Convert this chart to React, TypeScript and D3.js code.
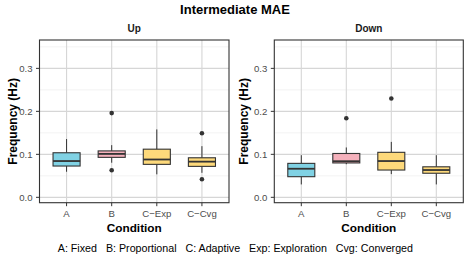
import React from 'react';
import * as d3 from 'd3';

const categories = ['A', 'B', 'C-Exp', 'C-Cvg'];
const tickLabels = ['A', 'B', 'C\u2212Exp', 'C\u2212Cvg'];
const fills = ['#80d2e4', '#f5b1bc', '#fdd97b', '#fdd97b'];
const panels = ['Up', 'Down'];
const yTicks = [0, 0.1, 0.2, 0.3];
const yMinor = [0.05, 0.15, 0.25, 0.35];
const caption = 'A: Fixed   B: Proportional   C: Adaptive   Exp: Exploration   Cvg: Converged';

// five-number summaries, per panel
const upLow = [0.0595, 0.0805, 0.0535, 0.057];
const upQ1 = [0.0728, 0.093, 0.0767, 0.072];
const upMed = [0.0844, 0.101, 0.088, 0.083];
const upQ3 = [0.1037, 0.108, 0.112, 0.092];
const upHigh = [0.1356, 0.1214, 0.158, 0.119];
const upOut = [[], [0.196, 0.063], [], [0.149, 0.042]];

const downLow = [0.030, 0.077, 0.054, 0.030];
const downQ1 = [0.048, 0.080, 0.0635, 0.056];
const downMed = [0.0665, 0.084, 0.0844, 0.0635];
const downQ3 = [0.079, 0.102, 0.1047, 0.071];
const downHigh = [0.098, 0.116, 0.129, 0.098];
const downOut = [[], [0.184], [0.230], []];

const stats = [
    { low: upLow, q1: upQ1, med: upMed, q3: upQ3, high: upHigh, out: upOut },
    { low: downLow, q1: downQ1, med: downMed, q3: downQ3, high: downHigh, out: downOut },
];

const W = 471, H = 255;
const top = 40, bottom = 202.7;
const panelX = [[39.5, 229], [274.3, 463.3]];
const yLabelGap = [23, 26.3];
const font = 'Liberation Sans, Arial, sans-serif';

function Panel({ idx }: { idx: number }) {
    const [x0, x1] = panelX[idx];
    const s = stats[idx];
    const x = d3.scalePoint<string>().domain(categories).range([x0, x1]).padding(0.6);
    const y = d3.scaleLinear().domain([-0.0125, 0.366]).range([bottom, top]);
    const bw = x.step() * 0.6;
    return (
        <g>
            <rect x={x0} y={top} width={x1 - x0} height={bottom - top} fill="#fff" />
            {yMinor.map(t => (
                <line key={'m' + t} x1={x0} x2={x1} y1={y(t)} y2={y(t)} stroke="#ebebeb" strokeWidth={0.6} />
            ))}
            {yTicks.map(t => (
                <line key={'g' + t} x1={x0} x2={x1} y1={y(t)} y2={y(t)} stroke="#d6d6d6" strokeWidth={1.1} />
            ))}
            {categories.map(c => (
                <line key={'v' + c} x1={x(c)} x2={x(c)} y1={top} y2={bottom} stroke="#d6d6d6" strokeWidth={1.1} />
            ))}
            {categories.map((c, i) => {
                const cx = x(c) as number;
                return (
                    <g key={c}>
                        <line x1={cx} x2={cx} y1={y(s.high[i])} y2={y(s.q3[i])} stroke="#333" strokeWidth={1} />
                        <line x1={cx} x2={cx} y1={y(s.q1[i])} y2={y(s.low[i])} stroke="#333" strokeWidth={1} />
                        <rect x={cx - bw / 2} y={y(s.q3[i])} width={bw} height={y(s.q1[i]) - y(s.q3[i])}
                            fill={fills[i]} stroke="#333" strokeWidth={1.1} />
                        <line x1={cx - bw / 2} x2={cx + bw / 2} y1={y(s.med[i])} y2={y(s.med[i])} stroke="#333" strokeWidth={1.8} />
                        {s.out[i].map((o, j) => (
                            <circle key={j} cx={cx} cy={y(o)} r={2.3} fill="#333" />
                        ))}
                    </g>
                );
            })}
            <rect x={x0} y={top} width={x1 - x0} height={bottom - top} fill="none" stroke="#333" strokeWidth={1.1} />
            {yTicks.map(t => (
                <g key={'t' + t}>
                    <line x1={x0 - 3.5} x2={x0} y1={y(t)} y2={y(t)} stroke="#333" strokeWidth={1} />
                    <text x={x0 - 7} y={y(t)} dy="0.35em" textAnchor="end" fontSize={9.6} fill="#4d4d4d" fontFamily={font}>
                        {d3.format('.1f')(t)}
                    </text>
                </g>
            ))}
            {categories.map((c, i) => (
                <g key={'x' + c}>
                    <line x1={x(c)} x2={x(c)} y1={bottom} y2={bottom + 3.5} stroke="#333" strokeWidth={1} />
                    <text x={x(c)} y={bottom + 14} textAnchor="middle" fontSize={9.6} fill="#4d4d4d" fontFamily={font}>
                        {tickLabels[i]}
                    </text>
                </g>
            ))}
            <text x={(x0 + x1) / 2} y={31.5} textAnchor="middle" fontSize={10} fontWeight="bold" fill="#1a1a1a" fontFamily={font}>
                {panels[idx]}
            </text>
            <text x={(x0 + x1) / 2} y={231.5} textAnchor="middle" fontSize={11.8} fontWeight="bold" fill="#000" fontFamily={font}>
                Condition
            </text>
            <text transform={`translate(${x0 - yLabelGap[idx]},${(top + bottom) / 2}) rotate(-90)`} textAnchor="middle"
                fontSize={12} fontWeight="bold" fill="#000" fontFamily={font}>
                Frequency (Hz)
            </text>
        </g>
    );
}

export default function App() {
    return (
        <svg width={W} height={H} style={{ position: 'absolute', left: 0, top: 0, background: '#fff' }}>
            <rect width={W} height={H} fill="#fff" />
            <text x={235} y={13.5} textAnchor="middle" fontSize={13} fontWeight="bold" fill="#000" fontFamily={font}>
                Intermediate MAE
            </text>
            <Panel idx={0} />
            <Panel idx={1} />
            <text x={235.4} y={251.5} textAnchor="middle" fontSize={10.7} fill="#000" fontFamily={font}
                style={{ whiteSpace: 'pre' }}>
                {caption}
            </text>
        </svg>
    );
}
